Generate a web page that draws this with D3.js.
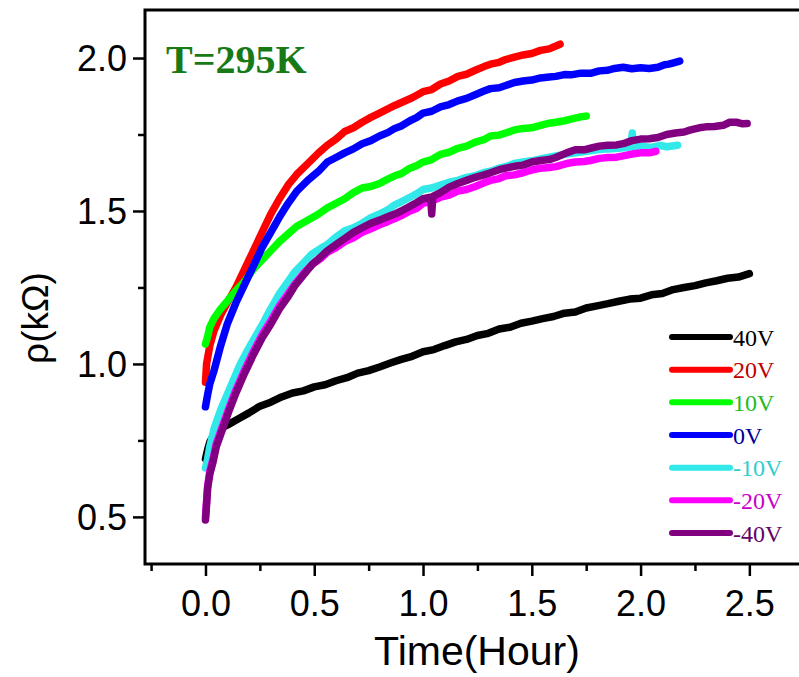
<!DOCTYPE html>
<html>
<head>
<meta charset="utf-8">
<script src="https://cdn.jsdelivr.net/npm/d3@7"></script>
<style>
  html, body { margin: 0; padding: 0; background: #fff; }
  svg { display: block; }
</style>
</head>
<body>
<svg id="chart" width="799" height="677"></svg>
<script>
// Resistivity vs. time at T = 295 K for several gate voltages: [time (h), rho (kΩ)]
const seriesLabels = ["40V", "20V", "10V", "0V", "-10V", "-20V", "-40V"];
const lineColors  = ["#000000", "#ff0000", "#00ff00", "#0000ff", "#33e8e8", "#ff00ff", "#800080"];
const labelColors = ["#000000", "#c00000", "#22bb22", "#000099", "#33cccc", "#cc00cc", "#660066"];

const rho40V = [[0,0.69],[0.01,0.72],[0.02,0.745],[0.04,0.77],[0.07,0.79],[0.1,0.80],[0.15,0.82],[0.2,0.84],[0.25,0.862],[0.3,0.875],[0.35,0.892],[0.4,0.905],[0.45,0.912],[0.5,0.925],[0.55,0.932],[0.6,0.945],[0.65,0.955],[0.7,0.97],[0.75,0.978],[0.8,0.99],[0.85,1.003],[0.9,1.015],[0.95,1.025],[1.0,1.04],[1.05,1.047],[1.1,1.06],[1.15,1.072],[1.2,1.08],[1.25,1.093],[1.3,1.10],[1.35,1.114],[1.4,1.12],[1.45,1.133],[1.5,1.14],[1.55,1.148],[1.6,1.155],[1.65,1.166],[1.7,1.17],[1.75,1.183],[1.8,1.19],[1.85,1.197],[1.9,1.205],[1.95,1.212],[2.0,1.215],[2.05,1.226],[2.1,1.23],[2.15,1.243],[2.2,1.25],[2.25,1.256],[2.3,1.265],[2.35,1.272],[2.4,1.28],[2.45,1.284],[2.5,1.295]];

const rho20V = [[0,0.94],[0.005,1.0],[0.02,1.06],[0.04,1.11],[0.07,1.16],[0.1,1.20],[0.14,1.25],[0.18,1.31],[0.22,1.37],[0.26,1.43],[0.3,1.49],[0.34,1.54],[0.38,1.585],[0.42,1.62],[0.47,1.655],[0.52,1.69],[0.56,1.715],[0.6,1.735],[0.64,1.76],[0.68,1.772],[0.72,1.79],[0.76,1.806],[0.8,1.82],[0.87,1.845],[0.95,1.87],[1.0,1.89],[1.04,1.897],[1.08,1.915],[1.12,1.925],[1.16,1.94],[1.2,1.947],[1.24,1.96],[1.28,1.972],[1.31,1.98],[1.35,1.986],[1.38,1.995],[1.42,2.003],[1.46,2.01],[1.5,2.015],[1.54,2.025],[1.58,2.03],[1.63,2.045]];

const rho10V = [[0,1.065],[0.01,1.09],[0.02,1.12],[0.04,1.15],[0.07,1.18],[0.1,1.205],[0.14,1.24],[0.18,1.27],[0.22,1.31],[0.26,1.34],[0.3,1.37],[0.34,1.40],[0.38,1.425],[0.42,1.45],[0.47,1.47],[0.52,1.49],[0.56,1.51],[0.6,1.525],[0.64,1.54],[0.68,1.56],[0.72,1.575],[0.76,1.58],[0.8,1.59],[0.84,1.605],[0.87,1.615],[0.9,1.622],[0.94,1.64],[0.97,1.648],[1.0,1.66],[1.04,1.668],[1.08,1.685],[1.12,1.692],[1.16,1.705],[1.2,1.712],[1.24,1.725],[1.28,1.733],[1.31,1.745],[1.35,1.748],[1.38,1.755],[1.42,1.765],[1.46,1.77],[1.5,1.772],[1.54,1.78],[1.58,1.787],[1.61,1.79],[1.65,1.795],[1.68,1.80],[1.72,1.807],[1.75,1.81]];

const rho0V = [[0,0.86],[0.01,0.90],[0.02,0.935],[0.04,0.98],[0.07,1.06],[0.1,1.13],[0.14,1.20],[0.18,1.26],[0.22,1.32],[0.26,1.38],[0.3,1.43],[0.34,1.48],[0.38,1.525],[0.42,1.565],[0.47,1.60],[0.52,1.63],[0.56,1.66],[0.6,1.675],[0.64,1.69],[0.68,1.703],[0.72,1.72],[0.76,1.73],[0.8,1.745],[0.84,1.757],[0.87,1.77],[0.9,1.778],[0.94,1.795],[0.97,1.805],[1.0,1.82],[1.04,1.826],[1.08,1.84],[1.12,1.848],[1.16,1.86],[1.2,1.868],[1.24,1.88],[1.28,1.892],[1.31,1.90],[1.35,1.903],[1.38,1.91],[1.42,1.92],[1.46,1.925],[1.5,1.928],[1.54,1.935],[1.58,1.938],[1.61,1.94],[1.65,1.946],[1.68,1.945],[1.72,1.95],[1.77,1.95],[1.81,1.958],[1.85,1.96],[1.88,1.966],[1.92,1.97],[1.96,1.965],[2.0,1.968],[2.04,1.966],[2.08,1.97],[2.11,1.978],[2.13,1.98],[2.16,1.986],[2.18,1.99]];

const rhoM10V = [[0,0.66],[0.01,0.69],[0.02,0.73],[0.04,0.79],[0.07,0.85],[0.1,0.90],[0.13,0.95],[0.16,1.00],[0.19,1.04],[0.23,1.09],[0.27,1.14],[0.3,1.18],[0.34,1.23],[0.38,1.27],[0.41,1.30],[0.45,1.33],[0.49,1.36],[0.53,1.378],[0.56,1.39],[0.6,1.415],[0.64,1.435],[0.68,1.445],[0.72,1.46],[0.76,1.478],[0.8,1.49],[0.84,1.505],[0.87,1.52],[0.9,1.53],[0.94,1.545],[0.97,1.556],[1.0,1.57],[1.04,1.575],[1.08,1.585],[1.12,1.594],[1.16,1.60],[1.2,1.61],[1.24,1.615],[1.28,1.626],[1.31,1.63],[1.35,1.64],[1.38,1.645],[1.42,1.655],[1.46,1.66],[1.5,1.664],[1.54,1.67],[1.58,1.676],[1.61,1.68],[1.66,1.686],[1.7,1.69],[1.75,1.695],[1.8,1.70],[1.85,1.703],[1.9,1.705],[1.955,1.71],[1.962,1.755],[1.968,1.71],[2.0,1.712],[2.05,1.708],[2.09,1.714],[2.12,1.71],[2.17,1.715]];

const rhoM20V = [[0,0.50],[0.005,0.55],[0.01,0.60],[0.02,0.65],[0.035,0.69],[0.05,0.74],[0.08,0.80],[0.11,0.86],[0.14,0.915],[0.18,0.98],[0.22,1.04],[0.26,1.095],[0.3,1.14],[0.34,1.19],[0.38,1.23],[0.41,1.26],[0.45,1.295],[0.49,1.325],[0.53,1.345],[0.56,1.365],[0.6,1.38],[0.64,1.40],[0.68,1.412],[0.72,1.43],[0.76,1.442],[0.8,1.455],[0.84,1.466],[0.87,1.475],[0.9,1.485],[0.94,1.50],[0.97,1.508],[1.0,1.525],[1.04,1.532],[1.08,1.545],[1.12,1.552],[1.16,1.565],[1.2,1.57],[1.24,1.58],[1.28,1.592],[1.31,1.60],[1.35,1.606],[1.38,1.615],[1.42,1.618],[1.46,1.625],[1.5,1.634],[1.54,1.64],[1.58,1.642],[1.61,1.645],[1.66,1.655],[1.7,1.66],[1.74,1.662],[1.77,1.665],[1.81,1.672],[1.85,1.675],[1.89,1.676],[1.92,1.68],[1.96,1.686],[2.0,1.69],[2.04,1.69],[2.07,1.695]];

const rhoM40V = [[0,0.49],[0.005,0.54],[0.01,0.595],[0.02,0.64],[0.035,0.68],[0.05,0.73],[0.08,0.79],[0.11,0.85],[0.14,0.905],[0.18,0.97],[0.22,1.03],[0.26,1.085],[0.3,1.13],[0.34,1.18],[0.38,1.22],[0.41,1.255],[0.45,1.29],[0.49,1.325],[0.53,1.35],[0.56,1.37],[0.6,1.39],[0.64,1.41],[0.68,1.43],[0.72,1.445],[0.76,1.46],[0.8,1.47],[0.84,1.482],[0.87,1.49],[0.9,1.50],[0.94,1.515],[0.97,1.527],[1.0,1.54],[1.035,1.545],[1.04,1.49],[1.045,1.548],[1.08,1.56],[1.12,1.578],[1.16,1.59],[1.2,1.60],[1.24,1.61],[1.28,1.618],[1.31,1.625],[1.35,1.635],[1.38,1.64],[1.42,1.646],[1.46,1.65],[1.5,1.66],[1.54,1.665],[1.58,1.668],[1.61,1.675],[1.66,1.69],[1.7,1.70],[1.74,1.70],[1.77,1.705],[1.81,1.712],[1.85,1.715],[1.89,1.716],[1.92,1.72],[1.96,1.73],[2.0,1.735],[2.04,1.736],[2.08,1.74],[2.12,1.75],[2.16,1.755],[2.2,1.758],[2.23,1.765],[2.27,1.772],[2.3,1.775],[2.34,1.776],[2.38,1.78],[2.41,1.79],[2.44,1.79],[2.47,1.785],[2.49,1.786]];

const seriesData = [rho40V, rho20V, rho10V, rho0V, rhoM10V, rhoM20V, rhoM40V];

const xMajorTicks = [0.0, 0.5, 1.0, 1.5, 2.0, 2.5];
const xMinorTicks = [-0.25, 0.25, 0.75, 1.25, 1.75, 2.25];
const yMajorTicks = [0.5, 1.0, 1.5, 2.0];
const yMinorTicks = [0.75, 1.25, 1.75];

const svg = d3.select("#chart");
const plot = { left: 145, right: 812, top: 10, bottom: 564 };

const x = d3.scaleLinear().domain([-0.278, 2.788]).range([plot.left, plot.right]);
const y = d3.scaleLinear().domain([0.346, 2.157]).range([plot.bottom, plot.top]);

const sans = "'Liberation Sans', Arial, sans-serif";
const serif = "'Liberation Serif', 'Times New Roman', serif";

// Data curves
const line = d3.line().x(d => x(d[0])).y(d => y(d[1])).curve(d3.curveLinear);
svg.append("g").selectAll("path")
  .data(seriesData)
  .join("path")
  .attr("d", line)
  .attr("fill", "none")
  .attr("stroke", (d, i) => lineColors[i])
  .attr("stroke-width", 7.5)
  .attr("stroke-linecap", "round")
  .attr("stroke-linejoin", "round");

// Axes
svg.append("g").attr("transform", `translate(0,${plot.bottom})`)
  .call(d3.axisBottom(x).tickValues(xMajorTicks).tickSize(12).tickPadding(14)
        .tickFormat(d3.format(".1f")));
svg.append("g").attr("transform", `translate(0,${plot.bottom})`)
  .call(d3.axisBottom(x).tickValues(xMinorTicks).tickSize(7).tickFormat(""));
const yAxis = svg.append("g").attr("transform", `translate(${plot.left},0)`)
  .call(d3.axisLeft(y).tickValues(yMajorTicks).tickSize(12).tickPadding(6)
        .tickFormat(d3.format(".1f")));
svg.append("g").attr("transform", `translate(${plot.left},0)`)
  .call(d3.axisLeft(y).tickValues(yMinorTicks).tickSize(7).tickFormat(""));

svg.selectAll(".domain").remove();
svg.selectAll(".tick line").attr("stroke", "#000").attr("stroke-width", 2.5);
svg.selectAll(".tick text")
  .attr("fill", "#000")
  .style("font-family", sans)
  .style("font-size", "36px");
yAxis.selectAll(".tick text").attr("dy", "0.36em");

// Frame (right edge runs past the canvas)
svg.append("path")
  .attr("d", `M${plot.right},${plot.top}H${plot.left}V${plot.bottom}H${plot.right}`)
  .attr("fill", "none")
  .attr("stroke", "#000")
  .attr("stroke-width", 3);

// Axis titles
svg.append("text")
  .attr("x", 477).attr("y", 665)
  .attr("text-anchor", "middle")
  .style("font-family", sans).style("font-size", "41px")
  .text("Time(Hour)");
svg.append("text")
  .attr("transform", "translate(48,318) rotate(-90)")
  .attr("text-anchor", "middle")
  .style("font-family", sans).style("font-size", "37px")
  .text("ρ(kΩ)");

// Temperature annotation
svg.append("text")
  .attr("x", 166).attr("y", 73)
  .style("font-family", serif).style("font-weight", "bold").style("font-size", "40px")
  .attr("fill", "#177a17")
  .text("T=295K");

// Legend
const legendRow = d3.scaleLinear().domain([0, 6]).range([337, 533]);
const legend = svg.append("g").selectAll("g")
  .data(seriesLabels)
  .join("g")
  .attr("transform", (d, i) => `translate(0,${legendRow(i)})`);
legend.append("line")
  .attr("x1", 672).attr("x2", 730).attr("y1", 0).attr("y2", 0)
  .attr("stroke", (d, i) => lineColors[i])
  .attr("stroke-width", 6)
  .attr("stroke-linecap", "round");
legend.append("text")
  .attr("x", 733).attr("y", 8.5)
  .style("font-family", serif).style("font-size", "24px")
  .attr("fill", (d, i) => labelColors[i])
  .text(d => d);
</script>
</body>
</html>
